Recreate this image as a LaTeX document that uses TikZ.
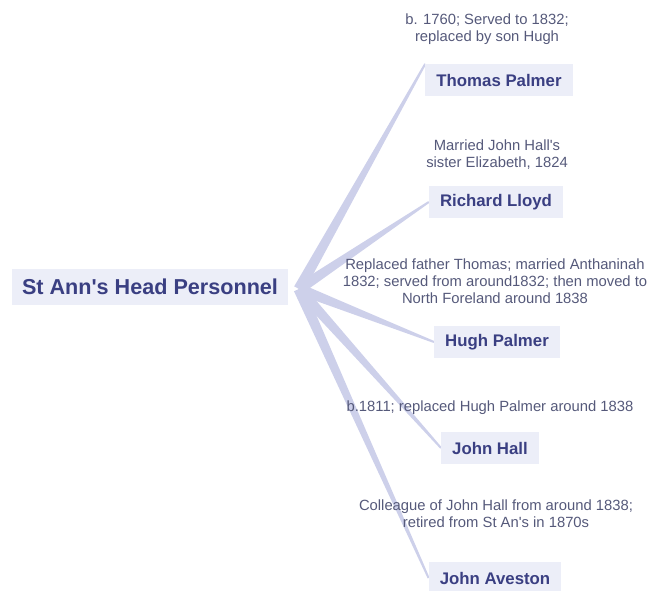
\documentclass[tikz,border=0pt]{standalone}
\usepackage{fontspec}
\setmainfont{Liberation Sans}
\usepackage{xcolor}
\usepackage{tikz}
\usetikzlibrary{calc,backgrounds}

\definecolor{boxfill}{HTML}{ECEEF8}
\definecolor{navy}{HTML}{3A3F82}
\definecolor{note}{HTML}{55597A}
\definecolor{limb}{HTML}{CDD0EA}

\begin{document}
\begin{tikzpicture}[x=1pt,y=-1pt,
   root/.style={fill=boxfill,text=navy,font=\fontsize{21.6}{24}\selectfont\bfseries,
     minimum height=36pt,inner xsep=10pt},
   person/.style={fill=boxfill,text=navy,font=\fontsize{16.8}{20}\selectfont\bfseries,
     minimum height=32pt,inner xsep=11pt},
   desc/.style={text=note,font=\fontsize{14.8}{17}\selectfont,align=center,inner sep=0pt},
   branch/.style={fill=limb}]
  \useasboundingbox (0,0) rectangle (655,590);
  \node[root] (r) at (150,287) {St Ann\textquotesingle s Head Personnel};
  \coordinate (hub) at (299,289);
  \node[person] (tp) at (499,80) {Thomas Palmer};
  \node[person] (rl) at (496,202) {Richard Lloyd};
  \node[person] (hp) at (497,342) {Hugh Palmer};
  \node[person] (jh) at (490,448) {John Hall};
  \node[person] (ja) at (495,578) {John Aveston};
  \node[desc] (dtp) at (487,29) {b. 1760; Served to 1832;\\replaced by son Hugh};
  \node[desc] (drl) at (497,155) {Married John Hall\textquotesingle s\\sister Elizabeth, 1824};
  \node[desc] (dhp) at (495,281) {Replaced father Thomas; married Anthaninah\\1832; served from around1832; then moved to\\North Foreland around 1838};
  \node[desc] (djh) at (490,408) {b.1811; replaced Hugh Palmer around 1838};
  \node[desc] (dja) at (496,514) {Colleague of John Hall from around 1838;\\retired from St An\textquotesingle s in 1870s};
  % tapered limbs from the root
  \begin{scope}[on background layer]
    \foreach \c/\a in {tp/north west,rl/west,hp/west,jh/west,ja/west}
      \fill[branch] ($(hub)!5.5pt!90:(\c.\a)$) -- ($(\c.\a)!1pt!-90:(hub)$)
        -- ($(\c.\a)!1pt!90:(hub)$) -- ($(hub)!5.5pt!-90:(\c.\a)$) -- cycle;
  \end{scope}
\end{tikzpicture}
\end{document}
